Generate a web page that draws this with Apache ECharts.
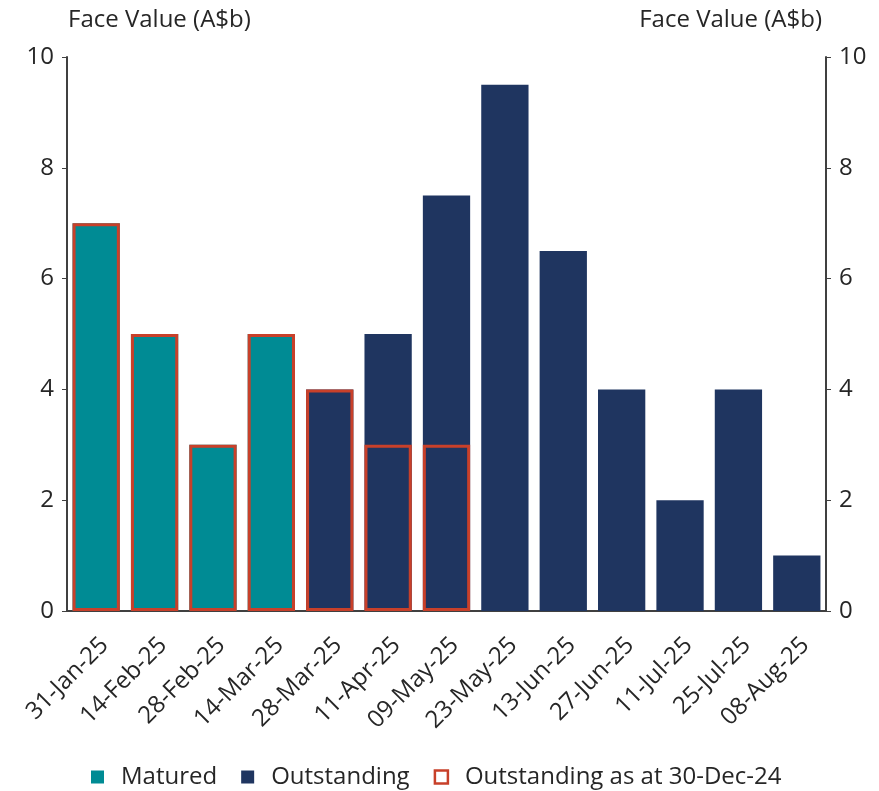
<!DOCTYPE html>
<html><head><meta charset="utf-8">
<script src="https://cdn.jsdelivr.net/npm/echarts@6/dist/echarts.min.js"></script>
<style>html,body{margin:0;padding:0;background:#fff}#c{width:879px;height:791px}</style>
</head><body><div id="c"></div>
<script>
var categories = ['31-Jan-25','14-Feb-25','28-Feb-25','14-Mar-25','28-Mar-25','11-Apr-25','09-May-25','23-May-25','13-Jun-25','27-Jun-25','11-Jul-25','25-Jul-25','08-Aug-25'];
var matured = [7,5,3,5,null,null,null,null,null,null,null,null,null];
var outstanding = [null,null,null,null,4,5,7.5,9.5,6.5,4,2,4,1];
var outstandingAt = [7,5,3,5,4,3,3,null,null,null,null,null,null];
var yTicks = [0,2,4,6,8,10];

var FONT = '"Open Sans", "Noto Sans", sans-serif';
var TXT = '#262626';
var AX = '#404040';
var FS = 24;
var chart = echarts.init(document.getElementById('c'));
function yAxis(pos, align){
  return {
    type:'value', position:pos, min:yTicks[0], max:yTicks[yTicks.length-1], interval:2,
    name:'Face Value (A$b)', nameLocation:'end', nameGap:37,
    nameTextStyle:{fontFamily:FONT, fontSize:FS, color:TXT, align:align, verticalAlign:'middle',
      padding: align==='left' ? [0,0,0,1] : [0,4,0,0]},
    axisLine:{show:true, lineStyle:{color:AX, width:2}},
    axisTick:{show:true, length:5, lineStyle:{color:AX, width:1}},
    axisLabel:{fontFamily:FONT, fontSize:FS, color:TXT, margin:13},
    splitLine:{show:false}
  };
}
chart.setOption({
  animation:false,
  grid:{left:67, right:53, top:57, bottom:180, containLabel:false},
  legend:{
    bottom:-3, left:86, itemWidth:13, itemHeight:13, itemGap:24,
    textStyle:{fontFamily:FONT, fontSize:FS, color:TXT, padding:[0,0,0,12]},
    data:[
      {name:'Matured', icon:'rect'},
      {name:'Outstanding', icon:'rect'},
      {name:'Outstanding as at 30-Dec-24', icon:'rect', itemStyle:{color:'#fff', borderColor:'#c8402a', borderWidth:2.5}}
    ]
  },
  xAxis:{
    type:'category', data:categories, boundaryGap:true,
    axisLine:{lineStyle:{color:AX, width:2}},
    axisTick:{alignWithLabel:true, length:5, lineStyle:{color:AX}},
    axisLabel:{rotate:45, fontFamily:FONT, fontSize:FS, color:TXT, margin:22, interval:0, verticalAlign:'top'}
  },
  yAxis:[yAxis('left','left'), yAxis('right','right')],
  series:[
    {name:'Matured', type:'bar', data:matured, barCategoryGap:'19%', barGap:'-100%', itemStyle:{color:'#008b94'}},
    {name:'Outstanding', type:'bar', data:outstanding, barCategoryGap:'19%', barGap:'-100%', itemStyle:{color:'#1f3560'}},
    {name:'Outstanding as at 30-Dec-24', type:'bar', data:outstandingAt, barCategoryGap:'19%', barGap:'-100%', z:5,
     itemStyle:{color:'rgba(0,0,0,0)', borderColor:'#c8402a', borderWidth:3}}
  ]
});
</script></body></html>
